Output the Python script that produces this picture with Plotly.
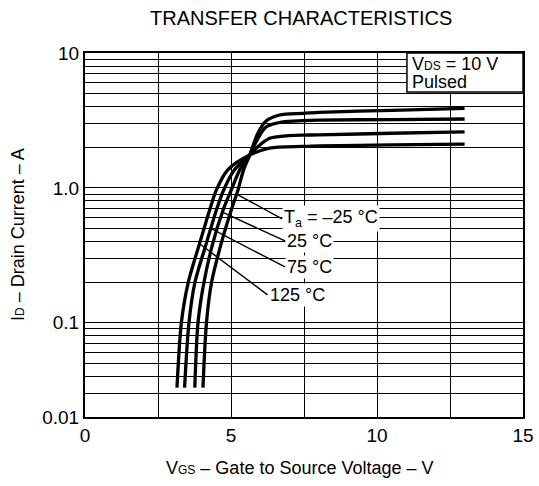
import numpy as np
import plotly.graph_objects as go

# ---------------- data ----------------
temp_labels = ["T<sub>a</sub> = –25 °C", "25 °C", "75 °C", "125 °C"]

vgs_m25 = [4.04, 4.16, 4.33, 4.67, 5.01, 5.24, 5.43, 5.64, 5.92, 6.21, 6.66, 7.46, 8.0, 10.5, 13.0]
id_m25 = [0.033, 0.10, 0.197, 0.391, 0.686, 0.965, 1.36, 1.75, 2.54, 3.14, 3.47, 3.57, 3.63, 3.76, 3.88]

vgs_25 = [3.76, 3.87, 4.07, 4.38, 4.73, 5.01, 5.30, 5.64, 5.89, 6.21, 6.78, 7.45, 8.0, 10.5, 13.0]
id_25 = [0.033, 0.10, 0.197, 0.391, 0.686, 0.965, 1.36, 1.75, 2.26, 2.84, 3.09, 3.15, 3.18, 3.21, 3.24]

vgs_75 = [3.41, 3.56, 3.76, 4.16, 4.50, 4.75, 5.12, 5.64, 5.92, 6.32, 6.89, 7.45, 8.0, 10.5, 13.0]
id_75 = [0.033, 0.10, 0.197, 0.391, 0.686, 0.965, 1.36, 1.75, 2.02, 2.33, 2.43, 2.46, 2.47, 2.54, 2.60]

vgs_125 = [3.15, 3.30, 3.53, 3.93, 4.27, 4.50, 4.89, 5.64, 6.32, 7.45, 8.0, 10.5, 13.0]
id_125 = [0.033, 0.10, 0.197, 0.391, 0.686, 0.965, 1.36, 1.75, 1.97, 2.03, 2.05, 2.08, 2.11]

# drain current where each label's leader touches its curve, and label anchor
label_tip_id = [0.90, 0.66, 0.50, 0.385]
label_text_vgs = [6.75, 6.85, 6.85, 6.25]
label_text_id = [0.588, 0.404, 0.259, 0.161]

x_tickvals = [0, 5, 10, 15]
x_ticktext = ["0", "5", "10", "15"]
x_minor_grid = [2.5, 7.5, 12.5]

y_tickvals = [0.02, 0.1, 1, 10]
y_ticktext = ["0.01", "0.1", "1.0", "10"]
y_minor_grid = [0.03, 0.04, 0.05, 0.06, 0.07, 0.08, 0.09,
                0.2, 0.3, 0.4, 0.5, 0.6, 0.7, 0.8, 0.9,
                2, 3, 4, 5, 6, 7, 8, 9]

title_text = "TRANSFER CHARACTERISTICS"
x_title = "V<span style='font-size:12px'>GS</span> – Gate to Source Voltage – V"
y_title = "I<span style='font-size:12px'>D</span> – Drain Current – A"
cond_line1 = "V<span style='font-size:12px'>DS</span> = 10 V"
cond_line2 = "Pulsed"

# ---------------- figure ----------------
FONT = "Liberation Sans, Arial, Helvetica, sans-serif"
fig = go.Figure()

curves = [(vgs_m25, id_m25), (vgs_25, id_25), (vgs_75, id_75), (vgs_125, id_125)]
for (vx, iy), name in zip(curves, temp_labels):
    fig.add_trace(go.Scatter(x=vx, y=iy, mode="lines", name=name,
                             line=dict(color="black", width=3.3, shape="spline", smoothing=0.8),
                             showlegend=False, hoverinfo="skip"))

# label annotations with leader lines
for (vx, iy), txt, tip_i, tx, ty in zip(curves, temp_labels, label_tip_id, label_text_vgs, label_text_id):
    rise_v = [v for v, i in zip(vx, iy) if i <= 1.75]
    rise_i = [i for v, i in zip(vx, iy) if i <= 1.75]
    tip_v = float(np.interp(np.log10(tip_i), np.log10(rise_i), rise_v))
    fig.add_annotation(x=tip_v, y=np.log10(tip_i), xref="x", yref="y",
                       ax=tx, ay=np.log10(ty), axref="x", ayref="y",
                       text=txt, showarrow=True, arrowhead=6, arrowsize=0.5,
                       arrowwidth=1.4, arrowcolor="black", standoff=0,
                       xanchor="left", yanchor="middle", bgcolor="white",
                       borderpad=1, font=dict(family=FONT, size=18, color="black"))

# condition box
fig.add_shape(type="rect", xref="paper", yref="paper", x0=0.735, x1=1.0, y0=0.893, y1=1.0,
              fillcolor="white", line=dict(color="black", width=1.5), layer="above")
fig.add_annotation(x=0.745, y=0.971, xref="paper", yref="paper", xanchor="left", yanchor="middle",
                   text=cond_line1, showarrow=False, align="left", height=17, borderpad=0,
                   font=dict(family=FONT, size=18, color="black"))
fig.add_annotation(x=0.745, y=0.922, xref="paper", yref="paper", xanchor="left", yanchor="middle",
                   text=cond_line2, showarrow=False, align="left", height=17, borderpad=0,
                   font=dict(family=FONT, size=18, color="black"))

# titles
fig.add_annotation(x=0.493, y=1.096, xref="paper", yref="paper", text=title_text,
                   showarrow=False, xanchor="center", yanchor="middle",
                   font=dict(family=FONT, size=20, color="black"))
fig.add_annotation(x=0.491, y=-0.140, xref="paper", yref="paper", text=x_title,
                   showarrow=False, xanchor="center", yanchor="middle",
                   font=dict(family=FONT, size=18, color="black"))
fig.add_annotation(x=-0.153, y=0.503, xref="paper", yref="paper", text=y_title,
                   showarrow=False, xanchor="center", yanchor="middle", textangle=-90,
                   font=dict(family=FONT, size=18, color="black"))

fig.update_xaxes(range=[0, 15], tickmode="array", tickvals=x_tickvals, ticktext=x_ticktext,
                 showgrid=True, gridcolor="black", gridwidth=1.2,
                 minor=dict(tickmode="array", tickvals=x_minor_grid, showgrid=True,
                            gridcolor="black", gridwidth=1.2, ticks=""),
                 showline=True, linecolor="black", linewidth=2, mirror=True,
                 ticks="", zeroline=False, automargin=False,
                 tickfont=dict(family=FONT, size=19, color="black"))
fig.update_yaxes(type="log", range=[np.log10(0.02), 1], tickmode="array",
                 tickvals=y_tickvals, ticktext=y_ticktext,
                 showgrid=True, gridcolor="black", gridwidth=1.2,
                 minor=dict(tickmode="array", tickvals=y_minor_grid, showgrid=True,
                            gridcolor="black", gridwidth=1.2, ticks=""),
                 showline=True, linecolor="black", linewidth=2, mirror=True,
                 ticks="", zeroline=False, automargin=False,
                 tickfont=dict(family=FONT, size=19, color="black"))

fig.update_layout(width=539, height=486,
                  margin=dict(l=85, r=16, t=53, b=69),
                  paper_bgcolor="white", plot_bgcolor="white",
                  font=dict(family=FONT, color="black"))

fig.write_html("out.html", config={"displayModeBar": False},
               post_script="document.body.style.margin='0px';document.body.style.overflow='hidden';")
